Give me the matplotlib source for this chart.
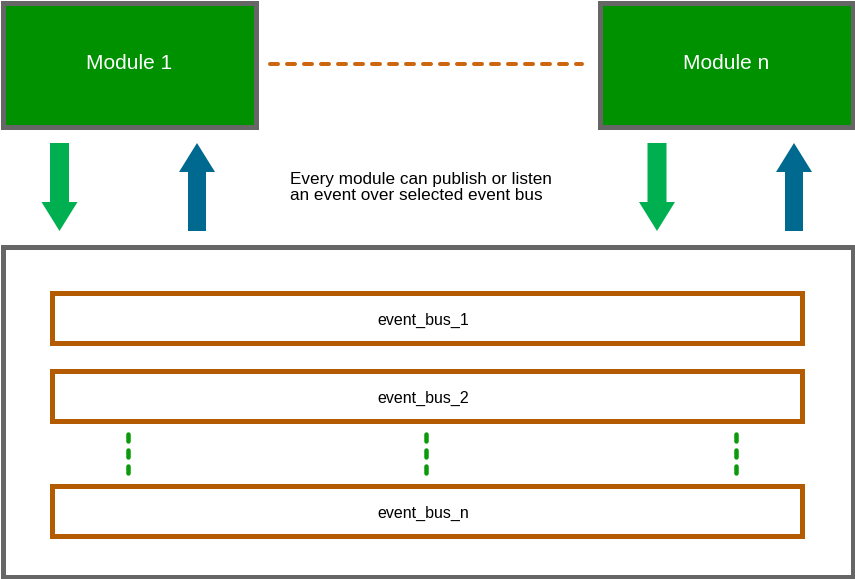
import matplotlib
matplotlib.use('Agg')
import matplotlib.pyplot as plt
from matplotlib.patches import Rectangle

plt.rcParams['font.family'] = ['Liberation Sans', 'DejaVu Sans']
plt.rcParams['lines.scale_dashes'] = False

# Diagram content
module_names = ['Module 1', 'Module n']
bus_names = ['event_bus_1', 'event_bus_2', 'event_bus_n']
caption_lines = ['Every module can publish or listen',
                 'an event over selected event bus']

# Layout in pixels (y from top)
W, H = 855, 579
PX = 0.72  # points per pixel at dpi 100
module_left = [0, 597]
module_w, module_h = 258, 129
bus_left, bus_right = 49, 804
bus_top = [290, 368, 483]
bus_h = 55
gap_x = [127.5, 426, 735.5]
arrow_down_x = [59.5, 657]
arrow_up_x = [197, 794]

GRAY = '#666666'
GREEN = '#009100'
ORANGE = '#b45a00'
DASH_ORANGE = '#cc6611'
DASH_GREEN = '#0a9a0a'
ARROW_GREEN = '#00b050'
ARROW_BLUE = '#00698f'

fig = plt.figure(figsize=(W / 100, H / 100), dpi=100)
ax = fig.add_axes([0, 0, 1, 1])
ax.set_xlim(0, W)
ax.set_ylim(H, 0)
ax.axis('off')


def box(x0, y0, w, h, edge, face, lw_px):
    # stroke is centred on the path, so shrink by half the border
    ax.add_patch(Rectangle((x0 + lw_px / 2, y0 + lw_px / 2), w - lw_px, h - lw_px,
                           facecolor=face, edgecolor=edge, linewidth=lw_px * PX,
                           joinstyle='miter'))


# module boxes
for name, x0 in zip(module_names, module_left):
    box(x0, 0, module_w, module_h, GRAY, GREEN, 5)
    ax.text(x0 + module_w / 2, 69, name, color='white', fontsize=15,
            ha='center', va='baseline')

# dashed link between modules
ax.plot([270, 582], [64, 64], color=DASH_ORANGE, linewidth=4 * PX,
        dashes=(8 * PX, 9 * PX), dash_capstyle='round')

# publish / listen arrows
for x in arrow_down_x:
    ax.arrow(x, 143, 0, 88, width=19, head_width=36, head_length=29,
             length_includes_head=True, color=ARROW_GREEN, linewidth=0)
for x in arrow_up_x:
    ax.arrow(x, 231, 0, -88, width=18, head_width=36, head_length=29,
             length_includes_head=True, color=ARROW_BLUE, linewidth=0)

# caption
for i, line in enumerate(caption_lines):
    ax.text(290, 184 + i * 16, line, color='black', fontsize=12.35,
            ha='left', va='baseline')

# container of event buses
box(0, 244, W, H - 244, GRAY, 'white', 5)

for name, y0 in zip(bus_names, bus_top):
    box(bus_left, y0, bus_right - bus_left, bus_h, ORANGE, 'white', 5)
    ax.text((bus_left + bus_right) / 2 - 3, y0 + bus_h / 2 + 7, name, color='black',
            fontsize=11.5, ha='center', va='baseline')

# vertical dots between bus 2 and bus n
for x in gap_x:
    ax.plot([x, x], [434, 473], color=DASH_GREEN, linewidth=4.5 * PX,
            dashes=(7 * PX, 9 * PX), dash_capstyle='round')

fig.savefig('out.png', dpi=100)
